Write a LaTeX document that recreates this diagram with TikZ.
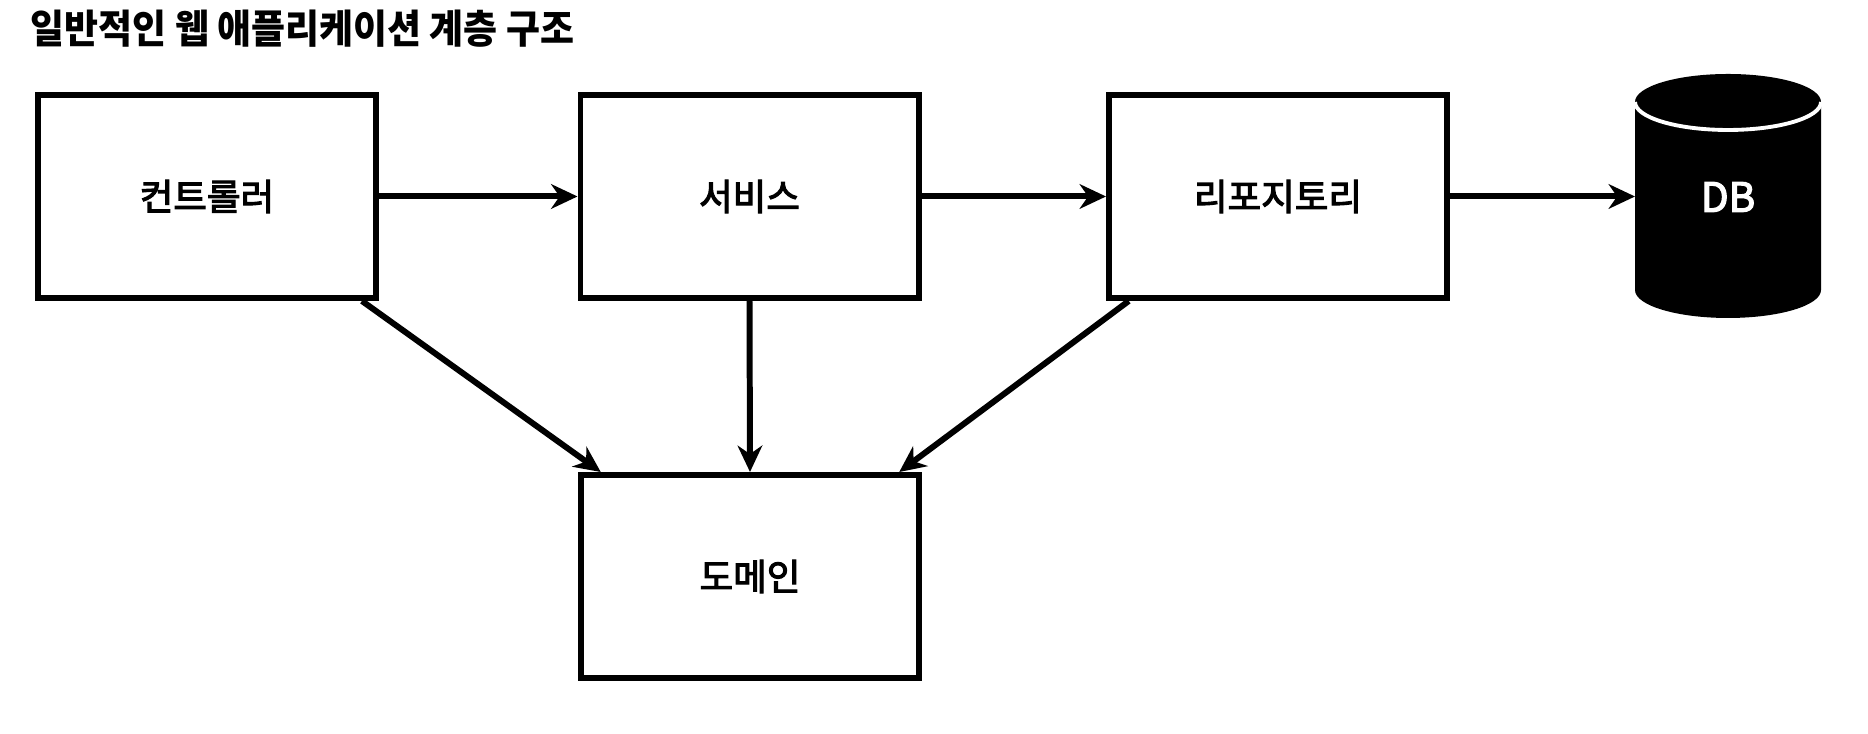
\documentclass[tikz,border=0pt]{standalone}
\usepackage{fontspec}
\newfontfamily\krfont{Noto Sans CJK KR}
\newfontfamily\krmid[FakeBold=3]{Noto Sans CJK KR}
\usepackage{tikz}
\usetikzlibrary{arrows.meta, positioning}

\begin{document}
\begin{tikzpicture}[
  layer/.style={draw=black, line width=1.7pt, minimum width=3.38cm, minimum height=2.03cm,
    font=\krmid\fontsize{10.4}{12}\selectfont},
  flow/.style={-{Stealth[length=7.5pt, width=7pt, inset=2.4pt]}, line width=1.7pt},
]
  \useasboundingbox (0,0) rectangle (18.68,7.34);

  % Title
  \node[anchor=west, inner sep=0pt, font=\krfont\bfseries\fontsize{11.3}{13}\selectfont]
    (title) at (0.30,7.05) {\scalebox{0.93}[1]{일반적인 웹 애플리케이션 계층 구조}};

  % Layers
  \node[layer] (ctrl) at (2.07,5.375) {컨트롤러};
  \node[layer] (svc)  at (7.495,5.375) {서비스};
  \node[layer] (repo) at (12.78,5.375) {리포지토리};
  \node[layer] (dom)  at (7.50,1.575) {도메인};

  % DB cylinder
  \fill[black] (16.35,6.32) -- (16.35,4.44)
    arc[start angle=180, end angle=360, x radius=0.93, y radius=0.28] -- (18.21,6.32)
    arc[start angle=0, end angle=180, x radius=0.93, y radius=0.28] -- cycle;
  \draw[white, line width=1.1pt] (16.35,6.32)
    arc[start angle=180, end angle=360, x radius=0.93, y radius=0.28];
  \node[white, font=\krmid\fontsize{11.5}{13}\selectfont] (db) at (17.28,5.37) {DB};
  \coordinate (dbin) at (16.35,5.375);

  % Connectors
  \draw[flow] (ctrl) -- (svc);
  \draw[flow] (svc) -- (repo);
  \draw[flow] (repo) -- (dbin);
  \draw[flow] (ctrl.-34) -- (dom.145);
  \draw[flow] (svc.south) -- (dom.north);
  \draw[flow] (repo.-145) -- (dom.35);
\end{tikzpicture}
\end{document}
